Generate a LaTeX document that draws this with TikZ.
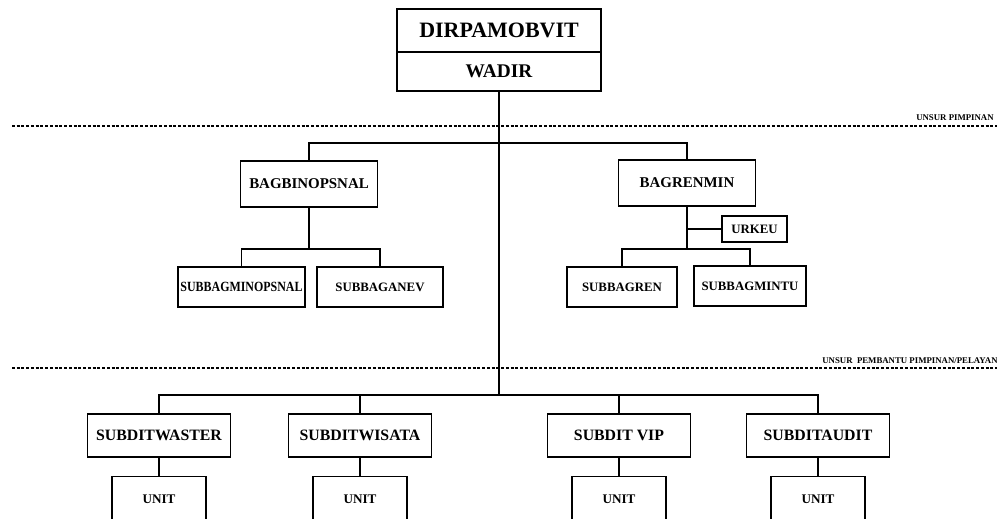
\documentclass[tikz,border=0pt]{standalone}
\usepackage{fontspec}
\usepackage{graphicx}
\setmainfont{Liberation Serif}

\begin{document}
\begin{tikzpicture}[
  x=0.02cm, y=-0.02cm,
  box/.style={
    draw=black, line width=1.1pt, inner sep=0pt,
    align=center, font=\bfseries
  },
  link/.style={line width=1.1pt},
  sep/.style={line width=0.8pt, dash pattern=on 0.06cm off 0.035cm},
  lbl/.style={inner sep=0pt, font=\bfseries\fontsize{5}{6}\selectfont}
]
\useasboundingbox (0,0) rectangle (997,518);

% ================= PIMPINAN =================
\node[box, minimum width=4.08cm, minimum height=0.86cm,
      font=\bfseries\fontsize{12.5}{14}\selectfont] (dir) at (499,30.5) {DIRPAMOBVIT};
\node[box, minimum width=4.08cm, minimum height=0.78cm,
      font=\bfseries\fontsize{11}{13}\selectfont] (wadir) at (499,71.5) {WADIR};

% garis batas
\draw[sep] (12,126) -- (997,126);
\node[lbl, anchor=south east] (pimpinan) at (994,121) {UNSUR PIMPINAN};

% ================= BAGIAN =================
\node[box, minimum width=2.74cm, minimum height=0.92cm,
      font=\bfseries\fontsize{8.5}{10}\selectfont] (bagbin) at (309,184) {BAGBINOPSNAL};
\node[box, minimum width=2.74cm, minimum height=0.92cm,
      font=\bfseries\fontsize{8.5}{10}\selectfont] (bagren) at (687,183) {BAGRENMIN};

% subbag binopsnal
\node[box, minimum width=2.54cm, minimum height=0.8cm,
      font=\bfseries\fontsize{8}{10}\selectfont] (minops) at (241.5,287) {\scalebox{0.85}[1]{SUBBAGMINOPSNAL}};
\node[box, minimum width=2.52cm, minimum height=0.8cm,
      font=\bfseries\fontsize{7.3}{9}\selectfont] (anev) at (380,287) {SUBBAGANEV};

% subbag renmin
\node[box, minimum width=2.2cm, minimum height=0.8cm,
      font=\bfseries\fontsize{7.3}{9}\selectfont] (sbren) at (622,287) {SUBBAGREN};
\node[box, minimum width=2.24cm, minimum height=0.8cm,
      font=\bfseries\fontsize{7.3}{9}\selectfont] (mintu) at (750,286) {SUBBAGMINTU};
\node[box, minimum width=1.3cm, minimum height=0.52cm,
      font=\bfseries\fontsize{7.3}{9}\selectfont] (urkeu) at (754.5,229) {URKEU};

% garis batas
\draw[sep] (12,368) -- (997,368);
\node[lbl, anchor=west] (pembantu) at (822,361) {UNSUR\ \ PEMBANTU PIMPINAN/PELAYAN};

% ================= SUBDIT =================
\foreach \name/\x/\txt in {
  waster/159/SUBDITWASTER, wisata/360/SUBDITWISATA,
  vip/619/SUBDIT VIP, audit/818/SUBDITAUDIT}
{
  \node[box, minimum width=2.86cm, minimum height=0.86cm,
        font=\bfseries\fontsize{9}{11}\selectfont] (\name) at (\x,435.5) {\txt};
  \node[box, minimum width=1.88cm, minimum height=0.9cm,
        font=\bfseries\fontsize{7.5}{9}\selectfont] (unit\name) at (\x,499) {UNIT};
  \draw[link] (\name) -- (unit\name);
}

% ================= GARIS =================
\coordinate (busA) at (499,143);
\coordinate (busB) at (499,395);
\coordinate (binbus) at (309,249);
\coordinate (renbus) at (687,249);

\draw[link] (wadir) -- (busB);
\draw[link] (bagbin.north) |- (busA) -| (bagren.north);

\draw[link] (bagbin) -- (binbus);
\draw[link] (minops.north) |- (binbus) -| (anev.north);

\draw[link] (bagren) -- (renbus);
\draw[link] (sbren.north) |- (renbus) -| (mintu.north);
\draw[link] (urkeu.west) -- (bagren.south |- urkeu.west);

\draw[link] (waster.north) |- (busB) -| (audit.north);
\draw[link] (wisata.north) -- (wisata.north |- busB);
\draw[link] (vip.north) -- (vip.north |- busB);

\end{tikzpicture}
\end{document}
